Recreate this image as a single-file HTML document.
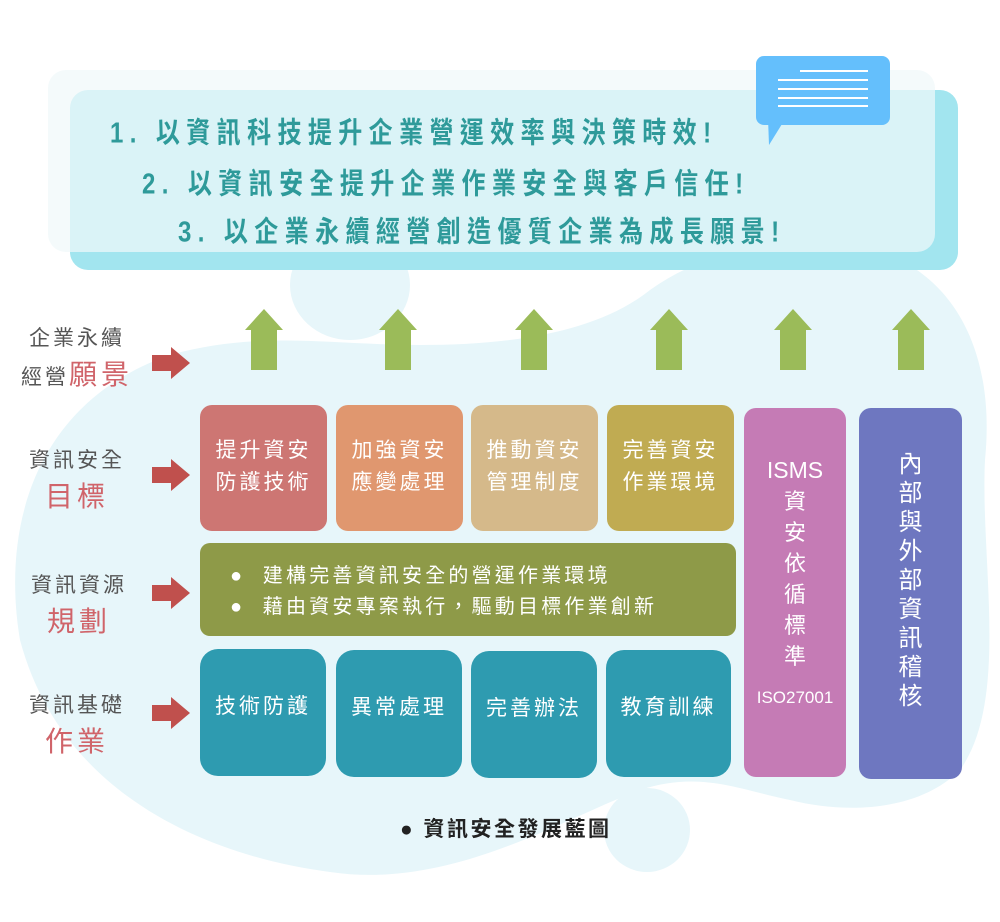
<!DOCTYPE html>
<html><head><meta charset="utf-8"><style>
body{margin:0;width:1000px;height:922px;background:#fff;position:relative;overflow:hidden;font-family:"Liberation Sans","Noto Sans CJK TC",sans-serif}
.a{position:absolute}
.box{position:absolute;border-radius:12px;color:#fff;font-size:21px;letter-spacing:3px;text-align:center;line-height:32px}
.lbl{position:absolute;width:130px;text-align:center;color:#555;font-size:21px;letter-spacing:3px;line-height:36px}
.lbl b{color:#d0646a;font-size:28px;letter-spacing:4px;font-weight:normal}
.t{position:absolute;color:#2e9a9a;font-size:24px;font-weight:bold;letter-spacing:6.4px;white-space:nowrap;transform:scaleY(1.2);transform-origin:left top}
</style></head><body>
<svg class="a" style="left:0;top:0" width="1000" height="922">
<path d="M20,640 C0,520 40,400 170,355 C260,330 330,345 420,345 C520,345 600,330 650,290 C720,240 820,230 900,260 C960,290 995,360 985,460 C980,560 1010,700 960,770 C920,810 850,815 790,800 C740,790 700,770 640,790 C560,820 450,890 330,872 C200,855 60,790 20,640 Z" fill="#e7f6fa"/>
<ellipse cx="350" cy="285" rx="60" ry="55" fill="#e7f6fa"/>
<ellipse cx="647" cy="830" rx="43" ry="42" fill="#e7f6fa"/>
<rect x="70" y="90" width="888" height="180" rx="18" fill="#a2e5ef"/>
<rect x="48" y="70" width="887" height="182" rx="18" fill="#f0f8fa" opacity="0.72"/>
<rect x="756" y="56" width="134" height="69" rx="8" fill="#64bffc"/>
<path d="M768,118 L782,124 L769,145 Z" fill="#64bffc"/>
<g stroke="#fff" stroke-width="2"><line x1="800" y1="71" x2="868" y2="71"/><line x1="778" y1="80" x2="868" y2="80"/><line x1="778" y1="89" x2="868" y2="89"/><line x1="778" y1="98" x2="868" y2="98"/><line x1="778" y1="106" x2="868" y2="106"/></g>
<g fill="#9bbb59">
<path d="M245,330 L264,309 L283,330 L277,330 L277,370 L251,370 L251,330 Z"/>
<path d="M379,330 L398,309 L417,330 L411,330 L411,370 L385,370 L385,330 Z"/>
<path d="M515,330 L534,309 L553,330 L547,330 L547,370 L521,370 L521,330 Z"/>
<path d="M650,330 L669,309 L688,330 L682,330 L682,370 L656,370 L656,330 Z"/>
<path d="M774,330 L793,309 L812,330 L806,330 L806,370 L780,370 L780,330 Z"/>
<path d="M892,330 L911,309 L930,330 L924,330 L924,370 L898,370 L898,330 Z"/>
</g>
<g fill="#c0504d">
<path d="M152,355 L171,355 L171,347 L190,363 L171,379 L171,371 L152,371 Z"/>
<path d="M152,467 L171,467 L171,459 L190,475 L171,491 L171,483 L152,483 Z"/>
<path d="M152,585 L171,585 L171,577 L190,593 L171,609 L171,601 L152,601 Z"/>
<path d="M152,705 L171,705 L171,697 L190,713 L171,729 L171,721 L152,721 Z"/>
</g>
</svg>
<div class="t" style="left:110px;top:109px">1. 以資訊科技提升企業營運效率與決策時效!</div>
<div class="t" style="left:142px;top:160px">2. 以資訊安全提升企業作業安全與客戶信任!</div>
<div class="t" style="left:178px;top:208px">3. 以企業永續經營創造優質企業為成長願景!</div>

<div class="lbl" style="left:12px;top:321px">企業永續<br>經營<b>願景</b></div>
<div class="lbl" style="left:12px;top:443px">資訊安全<br><b>目標</b></div>
<div class="lbl" style="left:14px;top:568px">資訊資源<br><b>規劃</b></div>
<div class="lbl" style="left:12px;top:688px">資訊基礎<br><b>作業</b></div>

<div class="box" style="left:200px;top:405px;width:127px;height:126px;background:#cd7673"><div style="padding-top:30px">提升資安<br>防護技術</div></div>
<div class="box" style="left:336px;top:405px;width:127px;height:126px;background:#e0976f"><div style="padding-top:30px">加強資安<br>應變處理</div></div>
<div class="box" style="left:471px;top:405px;width:127px;height:126px;background:#d5b98a"><div style="padding-top:30px">推動資安<br>管理制度</div></div>
<div class="box" style="left:607px;top:405px;width:127px;height:126px;background:#c0ab52"><div style="padding-top:30px">完善資安<br>作業環境</div></div>

<div class="box" style="left:200px;top:543px;width:536px;height:93px;background:#8e9a48;text-align:left;border-radius:10px;letter-spacing:3.2px;font-size:20px"><div style="padding:18px 0 0 30px;line-height:31px">●&nbsp;&nbsp;建構完善資訊安全的營運作業環境<br>●&nbsp;&nbsp;藉由資安專案執行，驅動目標作業創新</div></div>

<div class="box" style="left:200px;top:649px;width:126px;height:127px;background:#2e9bb0;border-radius:18px"><div style="padding-top:42px">技術防護</div></div>
<div class="box" style="left:336px;top:650px;width:126px;height:127px;background:#2e9bb0;border-radius:18px"><div style="padding-top:42px">異常處理</div></div>
<div class="box" style="left:471px;top:651px;width:126px;height:127px;background:#2e9bb0;border-radius:18px"><div style="padding-top:42px">完善辦法</div></div>
<div class="box" style="left:606px;top:650px;width:125px;height:127px;background:#2e9bb0;border-radius:18px"><div style="padding-top:42px">教育訓練</div></div>

<div class="box" style="left:744px;top:408px;width:102px;height:369px;background:#c57bb5;letter-spacing:0;line-height:32px"><div style="padding-top:46px;font-size:23px">ISMS</div><div style="font-size:22px;line-height:31px">資<br>安<br>依<br>循<br>標<br>準</div><div style="font-size:17px;padding-top:10px">ISO27001</div></div>
<div class="box" style="left:859px;top:408px;width:103px;height:371px;background:#6e77c0;letter-spacing:0"><div style="padding-top:42px;font-size:24px;line-height:29px">內<br>部<br>與<br>外<br>部<br>資<br>訊<br>稽<br>核</div></div>

<div class="a" style="left:400px;top:813px;font-size:21px;font-weight:bold;color:#222;letter-spacing:2.5px">● 資訊安全發展藍圖</div>
</body></html>
